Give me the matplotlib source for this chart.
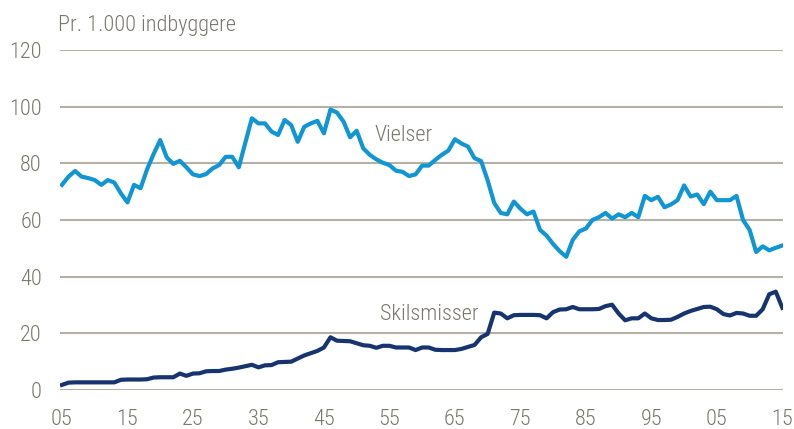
import matplotlib
matplotlib.use('Agg')
import matplotlib.pyplot as plt
from matplotlib import font_manager
import numpy as np

# pick a narrow font if one is installed
font_size = 15
chosen = 'Roboto'
for name, size in [('Liberation Sans Narrow', 16), ('Roboto Condensed', 16),
                   ('Open Sans Condensed', 15), ('DejaVu Sans Condensed', 14)]:
    try:
        font_manager.findfont(font_manager.FontProperties(family=name),
                              fallback_to_default=False)
        chosen, font_size = name, size
        break
    except Exception:
        pass
plt.rcParams['font.family'] = [chosen, 'DejaVu Sans']
plt.rcParams['font.weight'] = 'light'

years = np.arange(1905, 2016)

# Vielser pr. 1.000 indbyggere, 1905-2015
vielser = [
    72.4, 75.3, 77.3, 75.3, 74.8, 74.1, 72.4, 74.1, 73.2, 69.4,   # 1905-1914
    66.2, 72.4, 71.2, 77.9, 83.3, 88.2, 82.1, 79.8, 80.9, 78.6,   # 1915-1924
    76.1, 75.5, 76.2, 78.2, 79.4, 82.3, 82.3, 78.6, 87.3, 95.9,   # 1925-1934
    94.1, 94.1, 91.2, 90.0, 95.3, 93.5, 87.6, 92.9, 94.1, 95.0,   # 1935-1944
    90.6, 99.0, 97.9, 94.7, 89.2, 91.5, 85.3, 83.0, 81.4, 80.2,   # 1945-1954
    79.4, 77.4, 77.0, 75.5, 76.1, 79.2, 79.2, 81.2, 83.0, 84.5,   # 1955-1964
    88.5, 87.0, 85.9, 81.8, 80.8, 74.0, 66.0, 62.5, 62.0, 66.5,   # 1965-1974
    64.0, 62.0, 63.0, 56.5, 54.5, 51.5, 49.0, 47.0, 53.0, 56.0,   # 1975-1984
    57.0, 60.0, 61.0, 62.5, 60.5, 62.0, 61.0, 62.5, 61.0, 68.5,   # 1985-1994
    67.0, 68.2, 64.5, 65.5, 67.0, 72.2, 68.3, 69.0, 65.6, 70.0,   # 1995-2004
    67.0, 67.0, 67.0, 68.5, 60.0, 56.5, 48.7, 50.7, 49.3, 50.2,   # 2005-2014
    51.0,                                                         # 2015
]

# Skilsmisser pr. 1.000 indbyggere, 1905-2015
skilsmisser = [
    1.8, 2.6, 2.7, 2.7, 2.7, 2.7, 2.7, 2.7, 2.7, 3.6,             # 1905-1914
    3.7, 3.7, 3.7, 3.8, 4.4, 4.5, 4.5, 4.5, 5.8, 5.0,             # 1915-1924
    5.8, 5.9, 6.6, 6.7, 6.7, 7.2, 7.5, 7.9, 8.4, 8.9,             # 1925-1934
    8.0, 8.7, 8.8, 9.8, 9.9, 10.0, 11.1, 12.2, 13.0, 13.8,        # 1935-1944
    15.0, 18.6, 17.4, 17.3, 17.2, 16.5, 15.8, 15.6, 14.9, 15.6,   # 1945-1954
    15.6, 15.0, 15.0, 15.0, 14.1, 15.0, 15.0, 14.2, 14.1, 14.1,   # 1955-1964
    14.1, 14.5, 15.2, 15.9, 18.6, 19.8, 27.3, 27.0, 25.3, 26.4,   # 1965-1974
    26.5, 26.5, 26.5, 26.4, 25.3, 27.5, 28.4, 28.5, 29.3, 28.5,   # 1975-1984
    28.5, 28.5, 28.6, 29.6, 30.1, 27.0, 24.6, 25.3, 25.3, 27.0,   # 1985-1994
    25.3, 24.7, 24.7, 24.8, 25.8, 27.0, 27.9, 28.6, 29.3, 29.4,   # 1995-2004
    28.5, 26.8, 26.3, 27.2, 27.0, 26.2, 26.2, 28.5, 33.8, 34.7,   # 2005-2014
    29.0,                                                         # 2015
]

xticks = np.arange(1905, 2016, 10)
xtick_labels = ['%02d' % (y % 100) for y in xticks]
yticks = np.arange(0, 121, 20)

text_col = '#7a776c'
grid_col = '#b5b1a4'
blue = '#1196d4'
navy = '#17346f'

fig = plt.figure(figsize=(7.94, 4.29), dpi=100)
ax = fig.add_axes([60 / 794, 39 / 429, 723 / 794, 340 / 429])

for y in yticks:
    ax.axhline(y, color=grid_col, lw=1.5, zorder=1)

ax.plot(years, vielser, color=blue, lw=3.0, solid_joinstyle='round', zorder=3)
ax.plot(years, skilsmisser, color=navy, lw=3.0, solid_joinstyle='round', zorder=3)

ax.set_xlim(1904.7, 2015.1)
ax.set_ylim(0, 120)
ax.set_xticks(xticks)
ax.set_xticklabels(xtick_labels)
ax.set_yticks(yticks)
for s in ax.spines.values():
    s.set_visible(False)
ax.tick_params(axis='both', length=0, labelsize=font_size, colors=text_col)
ax.tick_params(axis='y', pad=13)
ax.tick_params(axis='x', pad=14)

ax.text(1952.7, 89.7, 'Vielser', fontsize=font_size, color=text_col, va='center')
ax.text(1953.5, 26.8, 'Skilsmisser', fontsize=font_size, color=text_col, va='center')

fig.text(58 / 794, 1 - 31 / 429, 'Pr. 1.000 indbyggere', fontsize=font_size,
         color=text_col, va='baseline', ha='left')

fig.savefig('out.png', dpi=100)
